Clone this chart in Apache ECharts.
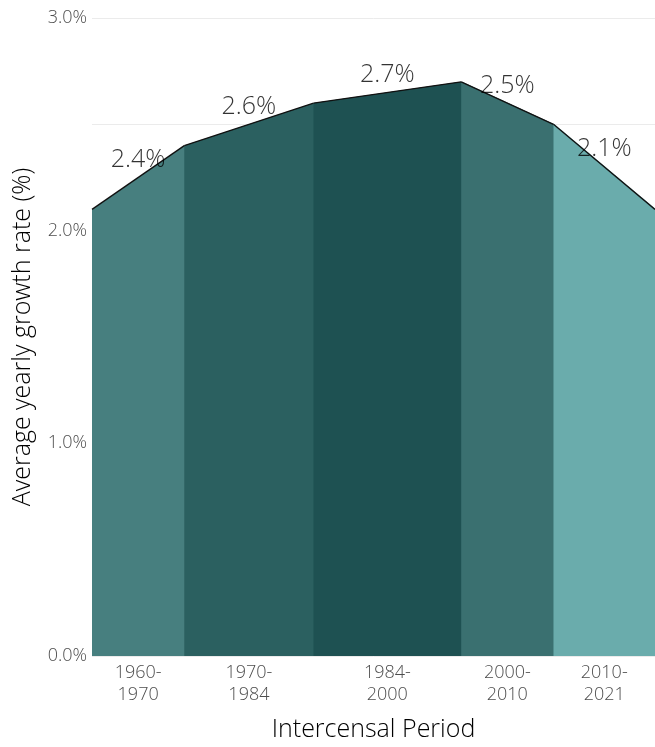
<!DOCTYPE html>
<html>
<head>
<meta charset="utf-8">
<script src="https://cdn.jsdelivr.net/npm/echarts@6/dist/echarts.min.js"></script>
<style>
  html, body { margin: 0; padding: 0; background: #ffffff; }
  #chart { width: 655px; height: 747px; }
</style>
</head>
<body>
<div id="chart"></div>
<script>
// Census years bounding each intercensal period
const censusYears = [1960, 1970, 1984, 2000, 2010, 2021];
// Growth rate drawn at each census year (the curve's vertices)
const curveRates = [2.1, 2.4, 2.6, 2.7, 2.5, 2.1];
// Average yearly growth rate per period (%)
const periodLabels = ['1960-\n1970', '1970-\n1984', '1984-\n2000', '2000-\n2010', '2010-\n2021'];
const periodRates = [2.4, 2.6, 2.7, 2.5, 2.1];
const periodColors = ['#477f7f', '#2b6060', '#1e5152', '#3a7070', '#6aacac'];
const yTicks = [0, 1, 2, 3];

const FONT = '"Open Sans"';
const WEIGHT = 300;

const mids = periodLabels.map((_, i) => (censusYears[i] + censusYears[i + 1]) / 2);

const series = [];
periodLabels.forEach((p, i) => {
  series.push({
    type: 'line',
    name: p,
    data: [[censusYears[i], curveRates[i]], [censusYears[i + 1], curveRates[i + 1]]],
    symbol: 'none',
    silent: true,
    lineStyle: { color: '#111', width: 1.3 },
    // a 1px same-colour shadow closes the seam between neighbouring bands
    areaStyle: { color: periodColors[i], opacity: 1, shadowColor: periodColors[i], shadowBlur: 0, shadowOffsetX: 1 },
    z: 2
  });
});

// Period rate labels sitting just above the curve at each period's centre
series.push({
  type: 'scatter',
  symbolSize: 0,
  silent: true,
  z: 5,
  data: periodRates.map((r, i) => ({
    value: [mids[i], (curveRates[i] + curveRates[i + 1]) / 2],
    rate: r
  })),
  label: {
    show: true,
    position: 'top',
    distance: 5,
    fontFamily: FONT,
    fontWeight: WEIGHT,
    fontSize: 25,
    color: '#000',
    formatter: (p) => p.data.rate.toFixed(1) + '%'
  }
});

const chart = echarts.init(document.getElementById('chart'), null, { renderer: 'canvas' });
chart.setOption({
  backgroundColor: '#ffffff',
  animation: false,
  grid: { left: 92, right: 0, top: 18, bottom: 89, containLabel: false },
  xAxis: {
    type: 'value',
    min: censusYears[0],
    max: censusYears[censusYears.length - 1],
    name: 'Intercensal Period',
    nameLocation: 'middle',
    nameGap: 61,
    nameTextStyle: { fontFamily: FONT, fontWeight: WEIGHT, fontSize: 25, color: '#000' },
    axisLine: { show: false },
    axisTick: { show: false },
    splitLine: { show: false },
    axisLabel: {
      customValues: mids,
      margin: 6,
      fontFamily: FONT,
      fontWeight: WEIGHT,
      fontSize: 18,
      lineHeight: 22,
      color: '#4d4d4d',
      formatter: (v) => {
        const i = mids.findIndex(m => Math.abs(m - v) < 1e-6);
        return i >= 0 ? periodLabels[i] : '';
      }
    }
  },
  yAxis: {
    type: 'value',
    min: 0,
    max: 3,
    interval: 0.5,
    name: 'Average yearly growth rate (%)',
    nameLocation: 'middle',
    nameGap: 57,
    nameTextStyle: { fontFamily: FONT, fontWeight: WEIGHT, fontSize: 25, color: '#000' },
    axisLine: { show: false },
    axisTick: { show: false },
    splitLine: { show: true, lineStyle: { color: '#ebebeb', width: 1 } },
    axisLabel: {
      margin: 5,
      fontFamily: FONT,
      fontWeight: WEIGHT,
      fontSize: 18,
      color: '#4d4d4d',
      formatter: (v) => yTicks.some(t => Math.abs(t - v) < 1e-6) ? v.toFixed(1) + '%' : ''
    }
  },
  series: series
});
</script>
</body>
</html>
